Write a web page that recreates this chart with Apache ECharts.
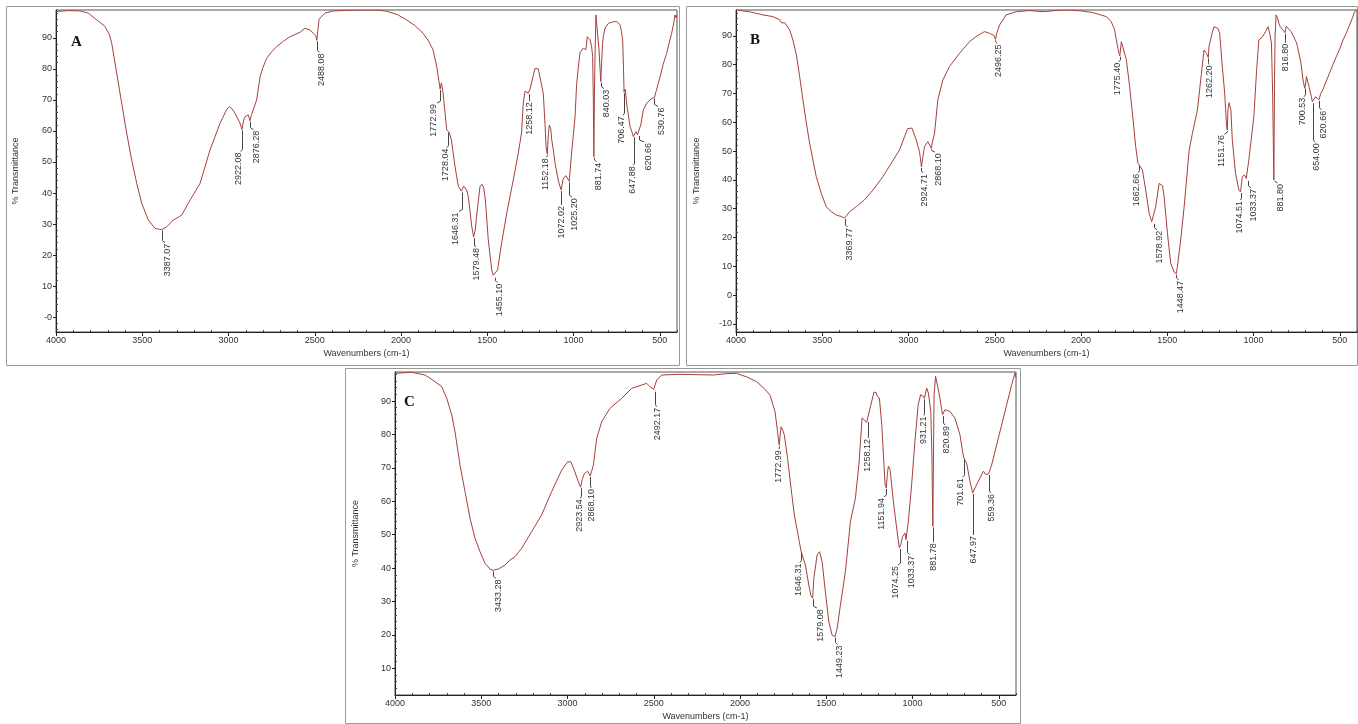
<!DOCTYPE html>
<html><head><meta charset="utf-8">
<script src="https://cdn.jsdelivr.net/npm/echarts@6/dist/echarts.min.js"></script>
<style>html,body{margin:0;padding:0;background:#fff}#c{width:1358px;height:724px}</style>
</head><body><div id="c"></div><script>
// ---------------- DATA ----------------
const spectrumA = [[4000,98.5],[3930,98.8],[3861,98.7],[3813,98],[3764,95.8],[3716,93.7],[3690,91],[3677,88.3],[3648,78.6],[3619,68.9],[3590,59.2],[3561,50.6],[3532,43.1],[3503,36.7],[3465,31.3],[3426,28.6],[3400,28.3],[3387,28.2],[3358,29.1],[3320,31.3],[3290,32.2],[3270,33],[3223,37.7],[3165,43.1],[3107,53.9],[3049,62.5],[3010,67],[2995,67.8],[2980,67.2],[2962,65.7],[2933,62.5],[2922,60.5],[2912,63.5],[2904,64.6],[2885,65.2],[2876,63.3],[2866,65.3],[2856,65.7],[2837,70],[2817,77.5],[2800,80.5],[2779,83.4],[2750,85.5],[2721,87.2],[2680,89],[2643,90.4],[2586,91.8],[2557,93.1],[2528,92.6],[2508,91.5],[2495,90.8],[2488,89.2],[2482,92.5],[2475,96],[2441,98],[2392,98.7],[2300,98.9],[2200,99],[2122,98.9],[2083,98.6],[2020,97.5],[1967,95.8],[1920,94],[1872,91.5],[1840,89],[1814,86.1],[1793,80.8],[1780,76],[1773,73.5],[1766,75.5],[1756,72.2],[1745,66],[1735,60.4],[1728,59.8],[1720,59.5],[1708,57.2],[1687,48.6],[1668,42.2],[1650,40.6],[1646,40.5],[1636,42.2],[1629,42.7],[1620,41],[1610,38.9],[1590,29.3],[1579,25.8],[1570,28],[1562,32.4],[1542,42.2],[1530,42.8],[1520,41.5],[1511,37.8],[1494,24.9],[1474,15.2],[1465,13.5],[1455,13],[1440,15.2],[1417,23.8],[1387,33.5],[1349,44.3],[1320,52.9],[1301,59.4],[1291,69.1],[1281,72.8],[1270,73.2],[1262,72.2],[1258,72.2],[1252,73.5],[1235,77.5],[1223,80.2],[1214,80.8],[1204,80],[1194,79.4],[1175,72],[1165,62],[1159,55],[1152,52.5],[1145,59.5],[1140,61.9],[1132,60.8],[1126,57.1],[1117,53.9],[1107,49.6],[1088,44],[1072,41],[1060,44.5],[1045,45.6],[1036,45.5],[1025,43.8],[1011,52.9],[991,64.6],[982,75],[972,80.5],[962,85.3],[953,85.8],[943,86.7],[928,86.2],[920,90.4],[914,91],[904,89.4],[895,87.2],[889,84],[885,70],[882,51.7],[879,70],[876,82],[873,90],[870,97.4],[862,96.8],[852,86.1],[842,75.9],[838,76.5],[832,87.9],[827,90.4],[817,93.2],[798,94.7],[770,95.2],[749,95.3],[730,94.2],[722,92],[715,89.4],[710,80],[707,72.5],[700,73.5],[690,68],[672,61.4],[660,59.5],[653,58.2],[648,58.3],[638,59.8],[629,58.8],[621,58.7],[610,62],[595,66.8],[575,69],[557,70],[545,70.5],[537,71.1],[531,70.8],[520,73],[498,77.5],[480,81.5],[460,85],[445,88.5],[431,91.5],[420,94.5],[412,97.4],[405,96.5],[400,97.5]];

const spectrumB = [[4000,99],[3921,98.4],[3844,97.3],[3786,96.7],[3747,95.6],[3735,94.5],[3728,94.2],[3718,94.6],[3708,94.2],[3689,92.1],[3670,88.6],[3650,83.4],[3631,75.9],[3612,67.8],[3592,59.7],[3573,52.7],[3554,46.9],[3535,41.2],[3506,35.4],[3477,30.7],[3448,29],[3419,27.8],[3390,27.3],[3370,26.8],[3360,27.5],[3341,29],[3303,30.7],[3255,33.1],[3206,36.5],[3148,41.2],[3100,45.8],[3052,50.4],[3023,55],[3005,57.8],[2994,58.3],[2980,58],[2974,57.5],[2955,53.9],[2936,49.8],[2925,44.5],[2918,47.5],[2907,51.6],[2888,53.3],[2878,53.5],[2868,51],[2860,53.5],[2849,56.2],[2830,67.8],[2801,74.7],[2762,79.4],[2704,84],[2646,88],[2608,89.8],[2559,91.5],[2530,90.9],[2505,90.2],[2496,88.8],[2488,91],[2472,93.8],[2434,97.3],[2376,98.4],[2300,98.8],[2220,98.4],[2150,98.8],[2085,99],[2000,98.7],[1931,98.1],[1853,96.7],[1825,95],[1805,92.1],[1792,87.5],[1780,84],[1775,83.1],[1766,88],[1756,87.5],[1737,81.7],[1718,72.4],[1698,60.8],[1683,51.6],[1670,45.8],[1662,45.3],[1655,44.5],[1644,43.5],[1625,36.5],[1605,28.4],[1590,25.5],[1579,25.1],[1567,30.7],[1547,38.8],[1536,39.4],[1527,38],[1518,34.2],[1499,21.5],[1480,11.1],[1460,8],[1448,7.4],[1441,9.9],[1422,19.2],[1402,30.7],[1373,50.4],[1354,56.2],[1325,64.3],[1306,74.7],[1287,85.1],[1280,85],[1273,84],[1262,82.5],[1258,86.3],[1240,91],[1229,93.2],[1218,93],[1206,92.6],[1196,90.9],[1181,79.4],[1167,70.1],[1157,59.5],[1152,57.3],[1148,64.3],[1142,66.8],[1138,67],[1131,64.3],[1123,53.9],[1104,42.3],[1085,36.5],[1075,35.8],[1065,41.2],[1052,41.7],[1042,40.5],[1033,40],[1027,46.9],[998,62],[982,78],[969,88.6],[964,88.8],[950,89.5],[945,89],[930,91.5],[925,90.9],[916,93.2],[906,90.9],[896,87.5],[889,70],[882,40],[878,75],[875,90],[869,97.3],[861,96.2],[853,94.4],[845,93.2],[830,92.1],[825,91.5],[817,91.1],[811,93.4],[803,93.8],[782,91.5],[774,90.9],[753,88],[745,86.3],[725,80.6],[713,74.7],[703,71.8],[700,72.5],[693,75.9],[678,72.4],[665,69],[659,67.2],[654,67],[640,68.9],[630,68.5],[621,67.8],[610,70],[598,71.3],[580,74],[560,77],[540,80],[520,82.8],[500,85.5],[481,88.6],[462,91],[443,93.8],[425,96.5],[414,98.4],[400,99]];

const spectrumC = [[4000,98.3],[3903,98.6],[3826,97.8],[3768,95.8],[3729,94.3],[3700,90.8],[3671,85.8],[3652,80.8],[3623,70.8],[3594,62.9],[3565,54.9],[3536,48.9],[3507,44.9],[3478,41.4],[3449,39.7],[3433,39.3],[3420,39.5],[3401,39.7],[3362,40.9],[3333,42.4],[3304,43.4],[3266,45.9],[3208,50.9],[3150,55.9],[3092,62.9],[3034,69.3],[2999,71.8],[2980,71.8],[2957,68.8],[2937,65.8],[2924,64.2],[2915,66.5],[2902,68.3],[2883,69],[2868,67.6],[2860,69],[2850,70.8],[2831,78.8],[2802,83.8],[2754,87.8],[2686,90.8],[2628,93.8],[2570,94.8],[2541,95.3],[2522,94.3],[2500,93.5],[2492,93.1],[2483,96.3],[2454,97.8],[2357,98],[2250,97.9],[2155,97.8],[2080,98.2],[2020,98.3],[1960,97.2],[1904,95.8],[1860,93.8],[1826,91.8],[1797,86.8],[1785,82],[1773,76.8],[1762,82.3],[1750,81],[1743,79.8],[1724,72.8],[1704,63.9],[1685,55.9],[1656,47.9],[1646,45],[1640,45.5],[1636,45.4],[1621,40.9],[1601,34.9],[1588,31.6],[1579,31],[1572,36.9],[1553,43.9],[1539,44.9],[1524,41.9],[1505,32.9],[1485,23.9],[1466,19.9],[1449,19.5],[1437,21.9],[1418,28.9],[1389,38.9],[1360,53.9],[1331,60.9],[1311,70.8],[1292,85],[1285,85.4],[1266,83.6],[1258,84],[1246,87.9],[1223,92.7],[1210,92.5],[1204,91.4],[1192,90.9],[1178,82.9],[1159,64.9],[1152,64],[1146,68],[1140,70.5],[1130,69.5],[1111,60],[1092,52],[1076,46],[1068,47],[1057,49.5],[1043,50.5],[1038,48.5],[1033,48.8],[1024,54],[1005,65],[986,77.9],[967,88.9],[953,91.9],[937,91.4],[931,90.8],[918,93.9],[908,92.4],[894,86.9],[888,75],[882,52.5],[879,70],[875,91.9],[866,97.4],[856,94.9],[841,90.9],[826,85.9],[821,85.8],[812,87.4],[783,86.9],[754,84.9],[725,79.9],[710,75],[702,72.9],[696,73],[686,71.4],[667,66],[651,62.5],[648,62.5],[638,64],[618,66],[589,69],[574,68],[564,67.8],[559,68.2],[541,70.9],[512,76.9],[483,82.9],[454,88.9],[425,94.9],[406,98.4],[400,97]];

const peaksA = [[3387.07,28.2],[2922.08,60.5],[2876.28,63.3],[2488.08,89.2],[1772.99,73.5],[1728.04,59.8],[1646.31,40.5],[1579.48,25.8],[1455.10,13],[1258.12,72.2],[1152.18,52.5],[1072.02,41],[1025.20,43.8],[881.74,51.7],[840.03,75.9],[706.47,72.5],[647.88,58.3],[620.66,58.7],[530.76,70.8]];
const peaksB = [[3369.77,26.8],[2924.71,44.5],[2868.10,51],[2496.25,88.8],[1775.40,83.1],[1662.66,45.3],[1578.92,25.1],[1448.47,7.4],[1262.20,82.5],[1151.76,57.3],[1074.51,35.8],[1033.37,40],[881.80,40],[816.80,91.1],[700.53,72],[654.00,67],[620.66,67.8]];
const peaksC = [[3433.28,39.3],[2923.54,64.2],[2868.10,67.6],[2492.17,93.1],[1772.99,76.8],[1646.31,45],[1579.08,31],[1449.23,19.5],[1258.12,84],[1151.94,64],[1074.25,46],[1033.37,48.5],[931.21,90.8],[881.78,52.5],[820.89,85.8],[701.61,72.9],[647.97,62.5],[559.36,68.2]];

const panelLetters = ['A','B','C'];
const xTickLabels = [4000,3500,3000,2500,2000,1500,1000,500];
const yTickLabelsA = [0,10,20,30,40,50,60,70,80,90];
const yTickLabelsB = [-10,0,10,20,30,40,50,60,70,80,90];
const yTickLabelsC = [10,20,30,40,50,60,70,80,90];
const xTitle = 'Wavenumbers (cm-1)';
const yTitle = '% Transmittance';

// ---------------- LAYOUT / STYLE ----------------
const GRIDS = [
  {left:56, top:10, width:621, height:322},
  {left:736, top:10, width:621, height:322},
  {left:395, top:372, width:621, height:323}
];
const YRANGE = [[-4.8,99],[-12.8,99],[2,98.7]];
const FRAMES = [[6,6,673,359],[686,6,671,359],[345,368,675,355]];
const LETTER_POS = [[71,35],[750,33],[404,395]];
const Y_NAME_GAP = [36,35,35];
// [dx of text column, leader length] per peak label
const LABEL_LAYOUT = [
  [[5,13],[-4,22],[6,9],[4,12],[-7,14],[-3,16],[-7,20],[2,10],[4,6],[0,8],[-2,3],[0,15],[5,16],[4,5],[5,7],[-3,23],[-2,29],[9,7],[7,9]],
  [[4,9],[3,6],[7,4],[3,4],[-3,6],[-3,8],[5,7],[4,6],[1,7],[-6,4],[-2,8],[5,8],[6,3],[0,10],[-3,9],[3,40],[4,10]],
  [[5,8],[-2,11],[1,12],[2,16],[-1,4],[-3,11],[7,10],[4,8],[-1,17],[-5,9],[-5,17],[4,15],[-1,17],[0,16],[3,10],[-4,19],[0,42],[2,19]]
];
const LINE_COLOR = '#a5403d';
const FONT = 'Liberation Sans';

const spectra = [spectrumA, spectrumB, spectrumC];
const peaks = [peaksA, peaksB, peaksC];
const yLabels = [yTickLabelsA, yTickLabelsB, yTickLabelsC];

const xMinor = [];
for (let w = 4000; w >= 400; w -= 100) if (w % 500 !== 0) xMinor.push(w);
function yMinor(r){ const a=[]; for (let v=Math.ceil(r[0]/2)*2; v<=r[1]; v+=2) if (v%10!==0) a.push(v); return a; }

const xAxis = [], yAxis = [], series = [], graphic = [];
for (let i=0;i<3;i++){
  xAxis.push({type:'value', gridIndex:i, position:'bottom', min:400, max:4000, inverse:true,
    axisLine:{show:true, onZero:false, lineStyle:{color:'#222', width:1}},
    axisTick:{show:true, customValues:xTickLabels, length:4, lineStyle:{color:'#222'}},
    axisLabel:{show:true, customValues:xTickLabels, fontSize:9, color:'#333', fontFamily:FONT, margin:4,
      formatter:(v)=>String(v)},
    splitLine:{show:false},
    name:xTitle, nameLocation:'middle', nameGap:17, nameTextStyle:{fontSize:9, color:'#333', fontFamily:FONT}});
  const r = YRANGE[i];
  yAxis.push({type:'value', gridIndex:i, position:'left', min:r[0], max:r[1],
    axisLine:{show:true, onZero:false, lineStyle:{color:'#222', width:1}},
    axisTick:{show:true, customValues:yLabels[i], length:3, lineStyle:{color:'#222'}},
    axisLabel:{show:true, customValues:yLabels[i], fontSize:9, color:'#333', fontFamily:FONT, margin:4,
      formatter: (v)=> (i===0 && v===0) ? '-0' : String(v)},
    splitLine:{show:false},
    name:yTitle, nameLocation:'middle', nameGap:Y_NAME_GAP[i], nameTextStyle:{fontSize:9, color:'#333', fontFamily:FONT}});
}
for (let i=0;i<3;i++){
  xAxis.push({type:'value', gridIndex:i, position:'bottom', min:400, max:4000, inverse:true,
    axisLine:{show:false, onZero:false}, axisLabel:{show:false}, splitLine:{show:false},
    axisTick:{show:true, inside:true, customValues:xMinor, length:2, lineStyle:{color:'#444'}}});
  yAxis.push({type:'value', gridIndex:i, position:'left', min:YRANGE[i][0], max:YRANGE[i][1],
    axisLine:{show:false, onZero:false}, axisLabel:{show:false}, splitLine:{show:false},
    axisTick:{show:true, inside:true, customValues:yMinor(YRANGE[i]), length:2, lineStyle:{color:'#444'}}});
}

function peakRender(panel){
  return function(params, api){
    const w = api.value(0), v = api.value(1);
    const p = api.coord([w, v]);
    const lay = LABEL_LAYOUT[panel][params.dataIndex] || [4,10];
    const dx = lay[0], L = lay[1];
    const x = Math.round(p[0]) + 0.5;
    const y0 = p[1] + 1;
    const yEnd = p[1] + L;
    const pts = [[x, y0],[x, Math.max(y0, yEnd - 2)],[x + dx*0.5, yEnd]];
    return {type:'group', children:[
      {type:'polyline', shape:{points:pts}, style:{stroke:'#444', lineWidth:1, fill:null}, silent:true},
      {type:'text', x:x + dx, y:yEnd + 1, rotation:Math.PI/2,
        style:{text:w.toFixed(2), align:'right', verticalAlign:'middle', fontSize:9, fontFamily:FONT, fill:'#333'}}
    ]};
  };
}

for (let i=0;i<3;i++){
  series.push({type:'line', xAxisIndex:i, yAxisIndex:i, data:spectra[i], showSymbol:false, symbol:'none',
    lineStyle:{color:LINE_COLOR, width:1}, animation:false, z:3});
  series.push({type:'custom', xAxisIndex:i, yAxisIndex:i, data:peaks[i], renderItem:peakRender(i),
    encode:{x:0, y:1}, clip:false, animation:false, z:4});
  const f = FRAMES[i];
  graphic.push({type:'rect', shape:{x:f[0]+0.5, y:f[1]+0.5, width:f[2], height:f[3]},
    style:{fill:null, stroke:'#9a9a9a', lineWidth:1}, z:-1, silent:true});
  graphic.push({type:'text', x:LETTER_POS[i][0], y:LETTER_POS[i][1],
    style:{text:panelLetters[i], font:'bold 15px "Liberation Serif"', fill:'#111'}});
}

const chart = echarts.init(document.getElementById('c'), null, {renderer:'canvas'});
chart.setOption({
  backgroundColor:'#fff', animation:false,
  grid: GRIDS.map(g => Object.assign({show:true, borderColor:'#555', borderWidth:1, backgroundColor:'transparent', containLabel:false}, g)),
  xAxis, yAxis, series, graphic
});
</script></body></html>
